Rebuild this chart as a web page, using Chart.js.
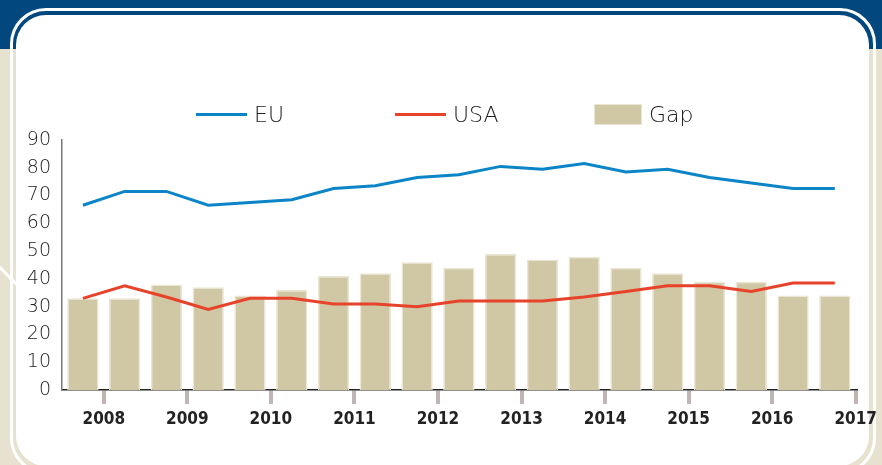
<!DOCTYPE html>
<html>
<head>
<meta charset="utf-8">
<script src="https://cdn.jsdelivr.net/npm/chart.js@4/dist/chart.umd.min.js"></script>
<style>
  html, body { margin: 0; padding: 0; }
  body { width: 882px; height: 465px; overflow: hidden; position: relative; background: #e7e1cf; }
  .topband { position: absolute; left: 0; top: 0; width: 882px; height: 49px; background: #03477f; }
  .slash { position: absolute; left: -5px; top: 275px; width: 28px; height: 2.5px; background: #fff; transform: rotate(45deg); }
  .outline { position: absolute; left: 10px; top: 8px; width: 860px; height: 460px; border: 3px solid #fff; border-radius: 36px; }
  .panel { position: absolute; left: 16px; top: 15px; width: 853px; height: 451px; background: #fff; border-radius: 30px; }
  .wrap { position: absolute; left: 0; top: 0; width: 882px; height: 465px; }
  #legend { position: absolute; left: 196px; top: 103px; height: 22px; display: flex; align-items: center;
            font-family: 'DejaVu Sans', sans-serif; font-weight: 200; font-size: 22px; color: #222; }
  #legend .item { flex: none; width: 199px; display: flex; align-items: center; }
  #legend .swatch { flex: none; margin-right: 7px; }
</style>
</head>
<body>
<div class="topband"></div>
<div class="slash"></div>
<div class="outline"></div>
<div class="panel"></div>
<div class="wrap"><canvas id="gapChart"></canvas></div>
<div id="legend"></div>
<script>
// half-year periods, 2008 H1 .. 2017 H1
const categories = [
  "2008 H1", "2008 H2", "2009 H1", "2009 H2", "2010 H1", "2010 H2", "2011 H1", "2011 H2",
  "2012 H1", "2012 H2", "2013 H1", "2013 H2", "2014 H1", "2014 H2", "2015 H1", "2015 H2",
  "2016 H1", "2016 H2", "2017 H1"
];
const euValues = [66.5, 71.5, 71.5, 66.5, 67.5, 68.5, 72.5, 73.5, 76.5, 77.5, 80.5, 79.5, 81.5, 78.5, 79.5, 76.5, 74.5, 72.5, 72.5];
const usaValues = [33, 37.5, 33.5, 29, 33, 33, 31, 31, 30, 32, 32, 32, 33.5, 35.5, 37.5, 37.5, 35.5, 38.5, 38.5];
const gapValues = [33, 33, 38, 37, 34, 36, 41, 42, 46, 44, 49, 47, 48, 44, 42, 39, 39, 34, 34];
const yearLabels = ["2008", "2009", "2010", "2011", "2012", "2013", "2014", "2015", "2016", "2017"];

// year ticks sit on every second boundary between the half-year bars
const yearAxisLabels = [];
for (let i = 0; i <= categories.length; i++) {
  yearAxisLabels.push(i % 2 ? yearLabels[(i - 1) / 2] : "");
}

const chart = new Chart("gapChart", {
  type: "bar",
  data: {
    labels: categories,
    datasets: [
      {
        type: "line",
        label: "EU",
        data: euValues,
        borderColor: "#0b85c7",
        backgroundColor: "#0b85c7",
        borderWidth: 3,
        pointRadius: 0,
        tension: 0,
      },
      {
        type: "line",
        label: "USA",
        data: usaValues,
        borderColor: "#e7432b",
        backgroundColor: "#e7432b",
        borderWidth: 3,
        pointRadius: 0,
        tension: 0,
      },
      {
        label: "Gap",
        data: gapValues,
        backgroundColor: "#d0c7a4",
        borderColor: "#ebe6d4",
        borderWidth: 1.5,
        categoryPercentage: 1,
        barPercentage: 0.75,
      },
    ],
  },
  options: {
    responsive: true,
    maintainAspectRatio: false,
    animation: false,
    layout: { padding: { left: 0, right: 26, top: 140, bottom: 0 } },
    plugins: {
      legend: { display: false },
      tooltip: { enabled: false },
    },
    scales: {
      x: { display: false, offset: true },
      years: {
        type: "category",
        position: "bottom",
        labels: yearAxisLabels,
        offset: false,
        ticks: {
          autoSkip: false,
          maxRotation: 0,
          padding: 5,
          color: "#222",
          font: { family: "'DejaVu Sans Condensed', sans-serif", weight: "bold", size: 17 },
        },
        grid: {
          offset: false,
          drawOnChartArea: false,
          tickLength: 14,
          lineWidth: 4,
          color: (c) => (c.index % 2 ? "#bfb5b5" : "rgba(0,0,0,0)"),
        },
        border: { display: true, color: "#222", width: 1.5 },
        afterFit: (s) => { s.height = 75; },
      },
      y: {
        min: 0,
        max: 90,
        ticks: {
          stepSize: 10,
          padding: 11,
          color: "#222",
          font: { family: "'DejaVu Sans', sans-serif", weight: "200", size: 19 },
        },
        grid: { display: false, drawTicks: false },
        border: { display: true, color: "#7a7a7a", width: 1.5 },
        afterFit: (s) => { s.width = 62; },
      },
    },
  },
});

// html legend built from the datasets
const legendBox = document.getElementById("legend");
chart.data.datasets.forEach(function (ds) {
  const item = document.createElement("div");
  item.className = "item";
  const sw = document.createElement("span");
  sw.className = "swatch";
  if (ds.type === "line") {
    sw.style.width = "51px";
    sw.style.height = ds.borderWidth + "px";
    sw.style.background = ds.borderColor;
  } else {
    sw.style.width = "46px";
    sw.style.height = "19px";
    sw.style.background = ds.backgroundColor;
    sw.style.border = "1px solid " + ds.borderColor;
  }
  item.appendChild(sw);
  item.appendChild(document.createTextNode(ds.label));
  legendBox.appendChild(item);
});
</script>
</body>
</html>
